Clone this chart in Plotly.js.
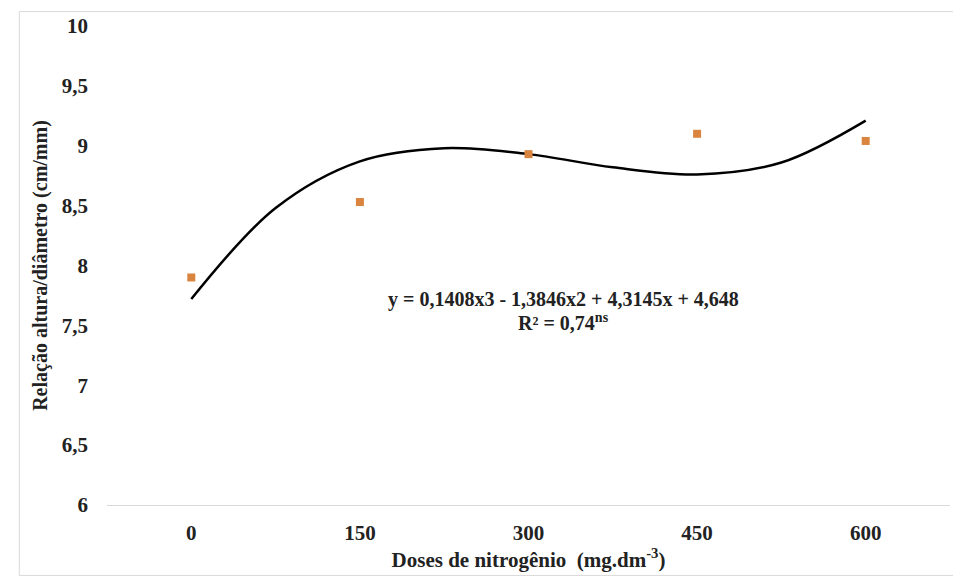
<!DOCTYPE html>
<html>
<head>
<meta charset="utf-8">
<script src="https://cdn.plot.ly/plotly-3.0.1.min.js"></script>
<style>html,body{margin:0;padding:0;background:#fff;}#chart{width:953px;height:578px;}</style>
</head>
<body>
<div id="chart"></div>
<script>
// Observed data
var doses = [0, 150, 300, 450, 600];
var relacao = [7.90, 8.53, 8.93, 9.10, 9.04];
// Fitted curve
var curveDoses = [0, 75, 150, 225, 300, 375, 450, 525, 600];
var curveValues = [7.72, 8.48, 8.87, 8.98, 8.93, 8.82, 8.76, 8.86, 9.21];
var tickLabelsX = ['0', '150', '300', '450', '600'];
var tickValsY = [6, 6.5, 7, 7.5, 8, 8.5, 9, 9.5, 10];
var tickLabelsY = ['6', '6,5', '7', '7,5', '8', '8,5', '9', '9,5', '10'];

var serif = "'Liberation Serif', 'Times New Roman', serif";
var data = [
  {x: curveDoses, y: curveValues, type: 'scatter', mode: 'lines',
   line: {color: '#000000', width: 2.5, shape: 'spline', smoothing: 1}, hoverinfo: 'skip'},
  {x: doses, y: relacao, type: 'scatter', mode: 'markers',
   marker: {symbol: 'square', size: 8, color: '#D9843F'}}
];
var layout = {
  width: 953, height: 578,
  margin: {l: 107, r: 3, t: 26, b: 73},
  paper_bgcolor: '#ffffff', plot_bgcolor: '#ffffff',
  showlegend: false,
  font: {family: serif, color: '#222222'},
  xaxis: {
    range: [-75, 675], tickvals: doses, ticktext: tickLabelsX,
    showgrid: false, zeroline: false, showline: true, linecolor: '#d9d9d9', linewidth: 1,
    ticks: '', ticklabelstandoff: 9,
    tickfont: {family: serif, size: 21, color: '#222222', weight: 'bold'},
    title: {text: 'Doses de nitrogênio  (mg.dm<sup>-3</sup>)', font: {family: serif, size: 21, color: '#222222', weight: 'bold'}, standoff: 3}
  },
  yaxis: {
    range: [6, 10], tickvals: tickValsY, ticktext: tickLabelsY,
    showgrid: false, zeroline: false, showline: false, ticks: '', ticklabelstandoff: 18,
    tickfont: {family: serif, size: 21, color: '#222222', weight: 'bold'},
    title: {text: 'Relação altura/diâmetro (cm/mm)', font: {family: serif, size: 20, color: '#222222', weight: 'bold'}, standoff: 8}
  },
  annotations: [
    {x: 331, y: 7.72, xref: 'x', yref: 'y', showarrow: false,
     text: 'y = 0,1408x3 - 1,3846x2 + 4,3145x + 4,648', font: {family: serif, size: 20, color: '#222222', weight: 'bold'}},
    {x: 331, y: 7.53, xref: 'x', yref: 'y', showarrow: false,
     text: 'R² = 0,74<sup>ns</sup>', font: {family: serif, size: 20, color: '#222222', weight: 'bold'}}
  ],
  shapes: [
    {type: 'rect', xref: 'paper', yref: 'paper', x0: -0.104, x1: 1.1, y0: -0.147, y1: 1.03,
     line: {color: '#d9d9d9', width: 1}}
  ]
};
Plotly.newPlot('chart', data, layout, {displayModeBar: false, staticPlot: true});
</script>
</body>
</html>
